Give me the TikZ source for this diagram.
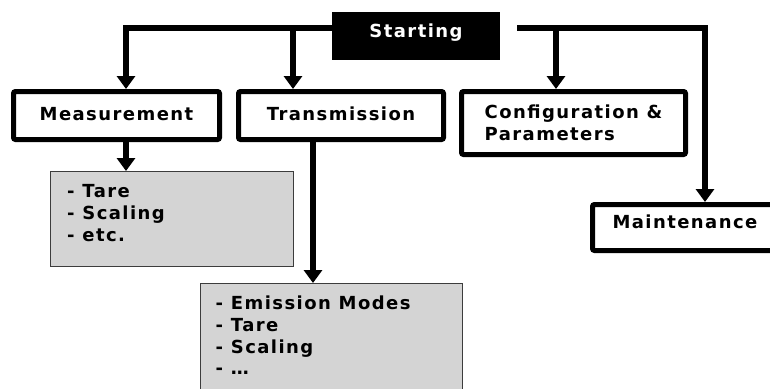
\documentclass[tikz,border=0pt]{standalone}
\usepackage{fontspec}
\setmainfont{DejaVu Sans}[LetterSpace=8]
\usetikzlibrary{arrows.meta}
\definecolor{gfill}{RGB}{212,212,212}
\definecolor{gline}{RGB}{60,60,60}
\begin{document}
\begin{tikzpicture}[x=1pt,y=-1pt,
  every node/.style={font=\fontsize{18}{21.7}\selectfont\bfseries},
  wbox/.style={draw=black, line width=5pt, rounded corners=2pt, fill=white, inner sep=0pt, text height=13.1pt},
  gbox/.style={draw=gline, line width=1pt, fill=gfill, inner sep=0pt},
  ltext/.style={anchor=north west, align=left, inner sep=0pt},
  conn/.style={line width=6.5pt, -{Triangle[width=18pt,length=13pt]}},
]
\useasboundingbox (0,0) rectangle (770,388);
% boxes
\node[fill=black, text=white, minimum width=168pt, minimum height=48pt, inner sep=0pt, outer sep=0pt,
      text height=13.1pt, text depth=10.1pt] (start) at (416,36) {Starting};
\node[wbox, minimum width=206pt, minimum height=48pt, text depth=4.1pt] (meas) at (116.5,115.5) {Measurement};
\node[wbox, minimum width=205pt, minimum height=48pt, text depth=4.1pt] (trans) at (341,115.5) {Transmission};
\node[wbox, minimum width=224pt, minimum height=63pt, align=left, text height=34.8pt, text depth=-2.2pt] (config) at (573.5,123) {Configuration \&\\Parameters};
\node[wbox, anchor=west, minimum height=46pt, inner xsep=20pt, text depth=12.1pt] (maint) at (590,227.5) {Maintenance};
\node[gbox, minimum width=243pt, minimum height=95pt] (gray1) at (172,219) {};
\node[gbox, minimum width=262pt, minimum height=116pt] (gray2) at (331.5,341.5) {};
\node[ltext] (g1text) at (67,184.3) {- Tare\\- Scaling\\- etc.};
\node[ltext] (g2text) at (215.5,296) {- Emission Modes\\- Tare\\- Scaling\\- …};
% bus coordinates
\coordinate (b1) at (126,28);
\coordinate (b2) at (293,28);
\coordinate (r0) at (517,28);
\coordinate (r1) at (556,28);
\coordinate (r2) at (705,28);
\coordinate (t1) at (313,142);
% connectors
\draw[conn] (start.west |- b1) -| (meas.north -| b1);
\draw[conn] (b2) -- (b2 |- trans.north);
\draw[conn] (r0) -| (maint.north -| r2);
\draw[conn] (r1) -- (r1 |- config.north);
\draw[conn] (b1 |- meas.south) -- (b1 |- gray1.north);
\draw[conn] (t1 |- trans.south) -- (t1 |- gray2.north);
\end{tikzpicture}
\end{document}
